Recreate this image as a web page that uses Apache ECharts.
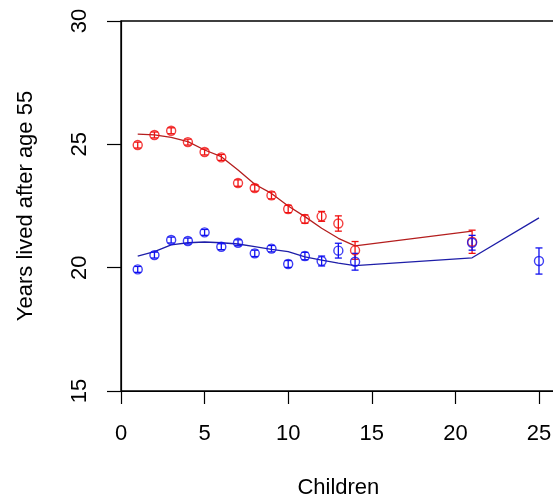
<!DOCTYPE html>
<html>
<head>
<meta charset="utf-8">
<script src="https://cdn.jsdelivr.net/npm/echarts@6/dist/echarts.min.js"></script>
<style>
html,body{margin:0;padding:0;background:#fff;}
#chart{width:553px;height:500px;}
</style>
</head>
<body>
<div id="chart"></div>
<script>
// Women (red)
var redChildren = [1,2,3,4,5,6,7,8,9,10,11,12,13,14,21];
var redMean = [24.97,25.38,25.55,25.09,24.69,24.47,23.43,23.23,22.93,22.38,21.97,22.08,21.79,20.70,21.05];
var redErr  = [0.12,0.12,0.12,0.12,0.12,0.12,0.13,0.13,0.14,0.15,0.17,0.20,0.31,0.36,0.47];
var redFit  = [25.41,25.38,25.28,25.11,24.77,24.50,23.96,23.38,23.01,22.50,22.07,21.60,21.19,20.88,21.48];

// Men (blue)
var blueChildren = [1,2,3,4,5,6,7,8,9,10,11,12,13,14,21,25];
var blueMean = [19.93,20.51,21.12,21.08,21.43,20.85,21.01,20.58,20.77,20.15,20.47,20.27,20.69,20.24,21.01,20.27];
var blueErr  = [0.12,0.12,0.12,0.12,0.12,0.12,0.12,0.13,0.13,0.14,0.15,0.20,0.30,0.34,0.30,0.53];
var blueFit  = [20.47,20.65,20.92,21.01,21.04,21.01,20.96,20.85,20.74,20.65,20.44,20.31,20.18,20.08,20.40,22.02];

var xTicks = [0,5,10,15,20,25];
var yTicks = [15,20,25,30];

var FONT = 'Liberation Sans, Arial, sans-serif';
var RED_PT = '#f01010', RED_LN = '#b41e1e';
var BLUE_PT = '#1010f0', BLUE_LN = '#1e1ea8';

function pairs(xs, ys){ return xs.map(function(x,i){ return [x, ys[i]]; }); }
function errData(xs, m, e){ return xs.map(function(x,i){ return [x, m[i]-e[i], m[i]+e[i]]; }); }
function errRender(color){
  return function(params, api){
    var x = api.value(0), lo = api.value(1), hi = api.value(2);
    var a = api.coord([x, lo]), b = api.coord([x, hi]);
    var w = 3.5;
    var st = {stroke: color, lineWidth: 1.3};
    return {type:'group', children:[
      {type:'line', shape:{x1:a[0],y1:a[1],x2:b[0],y2:b[1]}, style:st},
      {type:'line', shape:{x1:a[0]-w,y1:a[1],x2:a[0]+w,y2:a[1]}, style:st},
      {type:'line', shape:{x1:b[0]-w,y1:b[1],x2:b[0]+w,y2:b[1]}, style:st}
    ]};
  };
}

var chart = echarts.init(document.getElementById('chart'), null, {renderer:'canvas'});
chart.setOption({
  animation: false,
  backgroundColor: '#fff',
  grid: {left: 121, top: 21, width: 434.7, height: 370, show: true, borderColor: '#000', borderWidth: 1.4,
    backgroundColor: 'transparent', containLabel: false, outerBoundsMode: 'none'},
  xAxis: {
    type: 'value', min: 0, max: 26, interval: 5,
    name: 'Children', nameLocation: 'middle', nameGap: 86,
    nameTextStyle: {fontFamily: FONT, fontSize: 22, color: '#000'},
    axisLine: {show: true, lineStyle: {color: '#000', width: 1.2}},
    axisTick: {show: true, length: 13, lineStyle: {color: '#000', width: 1.2}},
    axisLabel: {fontFamily: FONT, fontSize: 22, color: '#000', margin: 32, showMaxLabel: false,
      formatter: function(v){ return xTicks.indexOf(v) >= 0 ? String(v) : ''; }},
    splitLine: {show: false}
  },
  yAxis: {
    type: 'value', min: 15, max: 30, interval: 5,
    name: 'Years lived after age 55', nameLocation: 'middle', nameGap: 84, nameRotate: 90,
    nameTextStyle: {fontFamily: FONT, fontSize: 22, color: '#000'},
    axisLine: {show: true, lineStyle: {color: '#000', width: 1.2}},
    axisTick: {show: true, length: 14, lineStyle: {color: '#000', width: 1.2}},
    axisLabel: {fontFamily: FONT, fontSize: 22, color: '#000', margin: 30, rotate: 90,
      formatter: function(v){ return yTicks.indexOf(v) >= 0 ? String(v) : ''; }},
    splitLine: {show: false}
  },
  series: [
    {type:'line', data: pairs(redChildren, redFit), showSymbol:false, symbol:'none',
      lineStyle:{color: RED_LN, width: 1.3}, z: 2},
    {type:'line', data: pairs(blueChildren, blueFit), showSymbol:false, symbol:'none',
      lineStyle:{color: BLUE_LN, width: 1.3}, z: 2},
    {type:'custom', data: errData(redChildren, redMean, redErr), renderItem: errRender(RED_PT),
      encode:{x:0, y:[1,2]}, z: 3},
    {type:'custom', data: errData(blueChildren, blueMean, blueErr), renderItem: errRender(BLUE_PT),
      encode:{x:0, y:[1,2]}, z: 3},
    {type:'scatter', data: pairs(redChildren, redMean), symbol:'circle', symbolSize: 9,
      itemStyle:{color:'rgba(0,0,0,0)', borderColor: RED_PT, borderWidth: 1.4}, z: 4},
    {type:'scatter', data: pairs(blueChildren, blueMean), symbol:'circle', symbolSize: 9,
      itemStyle:{color:'rgba(0,0,0,0)', borderColor: BLUE_PT, borderWidth: 1.4}, z: 4}
  ]
});
</script>
</body>
</html>
